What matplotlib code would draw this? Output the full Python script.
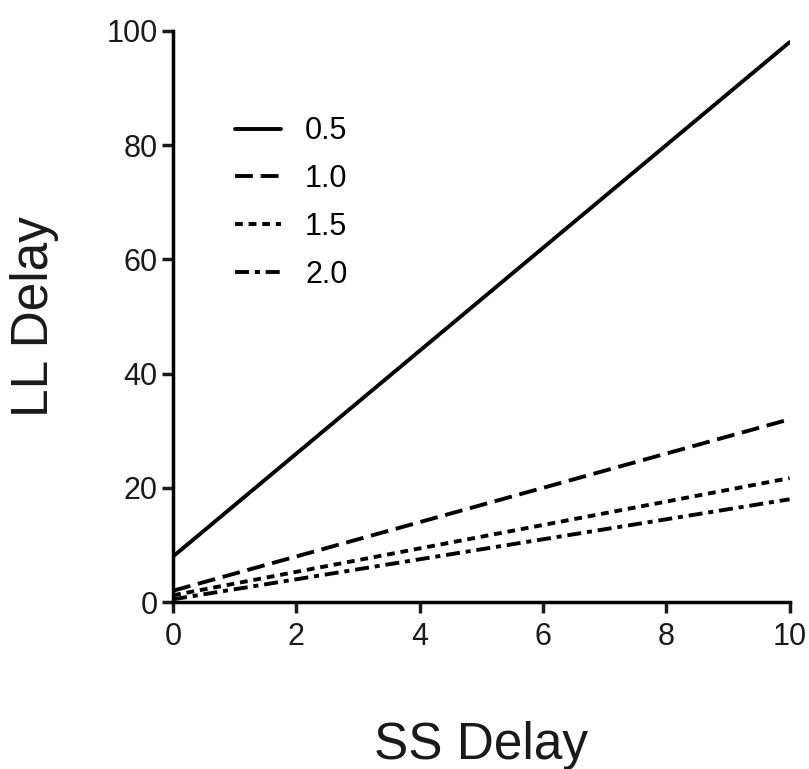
import numpy as np
import matplotlib.pyplot as plt

plt.rcParams['font.family'] = ['Liberation Sans', 'DejaVu Sans']

### discount rates in legend and line endpoints (SS delay 0 and 10)
labels = ['0.5', '1.0', '1.5', '2.0']
ss_delay = np.array([0., 10.])
ll_start = [8.0, 2.0, 1.2, 0.5]
ll_end = [98.0, 32.0, 21.7, 18.0]

### dash patterns, in units of line width
styles = ['-', (0, (4.6, 2.0)), (0, (2.0, 1.5)), (0, (3.6, 1.5, 1.3, 1.5))]

fig = plt.figure(figsize=(8.09, 7.69), dpi=100)
ax = fig.add_axes([0.214, 0.217, 0.762, 0.743])

for lab, y0, y1, ls in zip(labels, ll_start, ll_end, styles):
    ax.plot(ss_delay, [y0, y1], color='black', lw=2.8, linestyle=ls,
            label=lab, solid_capstyle='round', dash_capstyle='butt')

ax.set_xlim(0, 10)
ax.set_ylim(0, 100)
ax.set_xticks(np.arange(0, 11, 2))
ax.set_yticks(np.arange(0, 101, 20))
for s in ['top', 'right']:
    ax.spines[s].set_visible(False)
for s in ['left', 'bottom']:
    ax.spines[s].set_linewidth(2.5)
ax.tick_params(width=2.5, length=8, labelsize=22, colors='#1a1a1a')
ax.tick_params(axis='x', pad=6)
ax.tick_params(axis='y', pad=3)

ax.set_xlabel('SS Delay', fontsize=37, labelpad=50, color='#1a1a1a')
ax.set_ylabel('LL Delay', fontsize=37, labelpad=34, color='#1a1a1a')

ax.legend(frameon=False, loc='upper left', bbox_to_anchor=(0.1, 0.85),
          borderaxespad=0, borderpad=0, fontsize=22, handlelength=1.5,
          labelspacing=0.58, handletextpad=0.8)

fig.savefig('out.png', dpi=100)
